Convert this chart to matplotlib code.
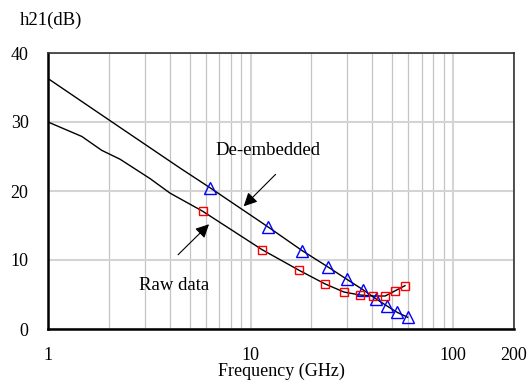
import numpy as np
import matplotlib
matplotlib.use('Agg')
import matplotlib.pyplot as plt

plt.rcParams['font.family'] = ['Liberation Serif', 'DejaVu Serif']

# de-embedded h21 (line + triangle markers)
deemb_line_f = [1, 2, 3, 4.5, 6.29, 12.2, 18.0, 24.1, 29.9, 35.9, 41.5, 47.4, 53.1, 59.7]
deemb_line_db = [36.3, 30.3, 26.8, 23.3, 20.5, 14.8, 11.35, 9.0, 7.2, 5.7, 4.4, 3.3, 2.4, 1.7]
deemb_mk_f = [6.29, 12.2, 18.0, 24.1, 29.9, 35.9, 41.5, 47.4, 53.1, 59.7]
deemb_mk_db = [20.5, 14.8, 11.35, 9.0, 7.2, 5.7, 4.4, 3.3, 2.4, 1.7]

# raw data h21 (line + square markers)
raw_line_f = [1, 1.47, 1.84, 2.27, 3.19, 4.0, 5.81, 11.4, 17.4, 23.2, 28.9, 34.7, 40.4, 46.2, 51.9, 57.9]
raw_line_db = [30.0, 27.9, 25.9, 24.6, 21.8, 19.7, 17.06, 11.5, 8.5, 6.57, 5.36, 4.93, 4.78, 4.78, 5.55, 6.28]
raw_mk_f = [5.81, 11.4, 17.4, 23.2, 28.9, 34.7, 40.4, 46.2, 51.9, 57.9]
raw_mk_db = [17.06, 11.5, 8.5, 6.57, 5.36, 4.93, 4.78, 4.78, 5.55, 6.28]

xticks = [1, 10, 100, 200]
yticks = [0, 10, 20, 30, 40]

fig = plt.figure(figsize=(5.29, 3.86), dpi=100)
ax = fig.add_axes([48/529, 57/386, 466/529, 276/386])

ax.plot(deemb_line_f, deemb_line_db, color='black', lw=1.0, zorder=3)
ax.plot(raw_line_f, raw_line_db, color='black', lw=1.0, zorder=3)
ax.plot(deemb_mk_f, deemb_mk_db, ls='none', marker='^', ms=9, mfc='none',
        mec='blue', mew=1.0, zorder=4)
ax.plot(raw_mk_f, raw_mk_db, ls='none', marker='s', ms=5.5, mfc='none',
        mec='red', mew=1.0, zorder=4)

ax.set_xscale('log')
ax.set_xlim(1, 200)
ax.set_ylim(0, 40)
ax.set_xticks(xticks)
ax.set_xticklabels([str(t) for t in xticks])
minor = [m * d for d in (1, 10) for m in range(2, 10)]
ax.set_xticks(minor, minor=True)
ax.xaxis.set_minor_formatter(matplotlib.ticker.NullFormatter())
ax.set_yticks(yticks)

ax.tick_params(which='both', length=0, labelsize=13)
ax.tick_params(axis='y', pad=14)
ax.tick_params(axis='x', pad=13)

ax.grid(True, which='major', axis='both', color='#d4d4d4', lw=1.5)
ax.grid(True, which='minor', axis='x', color='#c4c4c4', lw=0.9)
ax.set_axisbelow(True)

for s in ['left', 'bottom']:
    ax.spines[s].set_linewidth(1.8)
    ax.spines[s].set_color('black')
for s in ['top', 'right']:
    ax.spines[s].set_linewidth(1.2)
    ax.spines[s].set_color('#333333')

ax.set_xlabel('Frequency (GHz)', fontsize=13, labelpad=-1)
fig.text(20/529, 1 - 20/386, 'h21(dB)', fontsize=13.5, va='center', ha='left')

arrow = dict(arrowstyle='-|>', color='black', lw=0.8, mutation_scale=20)
ax.annotate('', xy=(9.05, 17.5), xytext=(13.6, 22.7), arrowprops=arrow)
ax.annotate('', xy=(6.38, 15.46), xytext=(4.29, 10.48), arrowprops=arrow)
ax.text(6.68, 25.8, 'De-embedded', fontsize=13.5, va='center', ha='left')
ax.text(2.82, 6.3, 'Raw data', fontsize=13.5, va='center', ha='left')

plt.savefig('out.png', dpi=100)
plt.close()
